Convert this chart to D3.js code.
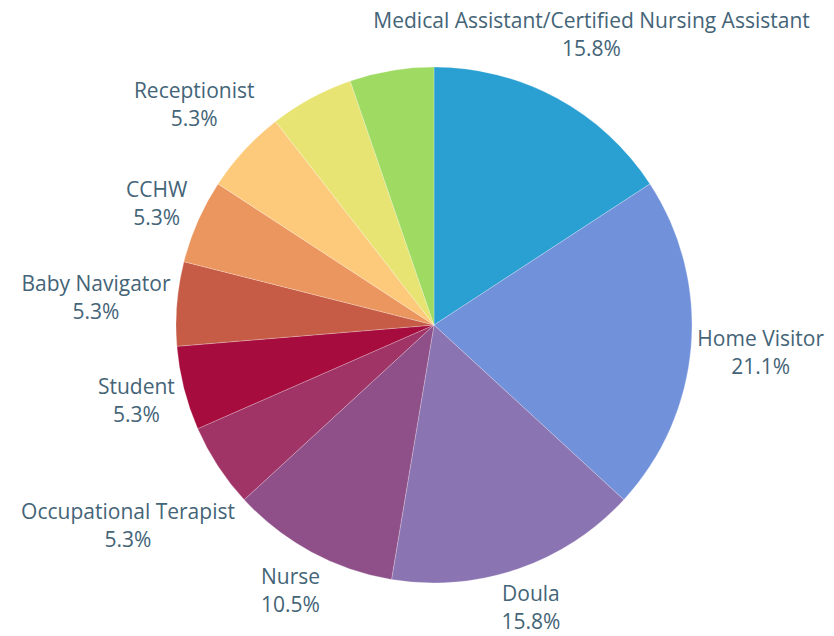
<!DOCTYPE html>
<html lang="en">
<head>
<meta charset="utf-8">
<title>Roles</title>
<script src="https://d3js.org/d3.v7.min.js"></script>
<style>
  body { margin: 0; background: #fff; }
  .labels { font-family: "Open Sans", sans-serif; font-size: 21px; fill: #446477; }
</style>
</head>
<body>
<svg width="834" height="636"></svg>
<script>
// respondents per role, clockwise from 12 o'clock
// (last two slices have no visible label in the original)
const roles = ["Medical Assistant/Certified Nursing Assistant", "Home Visitor", "Doula", "Nurse",
               "Occupational Terapist", "Student", "Baby Navigator", "CCHW", "Receptionist", "", ""];
const counts = [3, 4, 3, 2, 1, 1, 1, 1, 1, 1, 1];
const colors = ["#2a9fd2", "#7191db", "#8b74b2", "#8f4f89", "#a03467", "#a60d3e",
                "#c65b46", "#eb965f", "#fdca7b", "#e8e474", "#9fdb62"];

const svg = d3.select("svg");
const w = 834, h = 636;
const cx = 434, cy = 325, r = 258;
const gap = 5;

const data = roles.map((name, i) => ({name, count: counts[i], color: colors[i]}));
const total = d3.sum(counts);
const pct = d3.format(".1%");

const pie = d3.pie().sort(null).value(d => d.count);
const arcs = pie(data);
const arc = d3.arc().innerRadius(0).outerRadius(r);

const g = svg.append("g").attr("transform", `translate(${cx},${cy})`);

g.selectAll("path")
  .data(arcs)
  .enter()
  .append("path")
  .attr("d", arc)
  .attr("fill", d => d.data.color)
  .attr("stroke", "#fff")
  .attr("stroke-opacity", 0.4)
  .attr("stroke-width", 0.6);

// labels: two centred lines, pushed out along the slice's mid angle
// until the text box clears the pie by `gap`
const labels = g.selectAll("g.lab")
  .data(arcs.filter(d => d.data.name !== ""))
  .enter()
  .append("g")
  .attr("class", "lab labels");

const txt = labels.append("text").attr("text-anchor", "middle");
txt.append("tspan").attr("x", 0).attr("y", 0).text(d => d.data.name);
txt.append("tspan").attr("x", 0).attr("y", 28).text(d => pct(d.data.count / total));

labels.each(function(d) {
  const bb = this.getBBox();
  const a = (d.startAngle + d.endAngle) / 2;
  const ux = Math.sin(a), uy = -Math.cos(a);
  const hw = bb.width / 2, hh = bb.height / 2;
  // distance from pie centre to nearest point of box centred at t*u
  const dist = t => {
    const bx = t * ux, by = t * uy;
    const nx = Math.max(Math.abs(bx) - hw, 0), ny = Math.max(Math.abs(by) - hh, 0);
    return Math.hypot(nx, ny);
  };
  let t = r;
  while (dist(t) < r + gap) t += 0.5;
  const mx = bb.x + hw, my = bb.y + hh;
  d3.select(this).attr("transform", `translate(${t * ux - mx},${t * uy - my})`);
});
</script>
</body>
</html>
